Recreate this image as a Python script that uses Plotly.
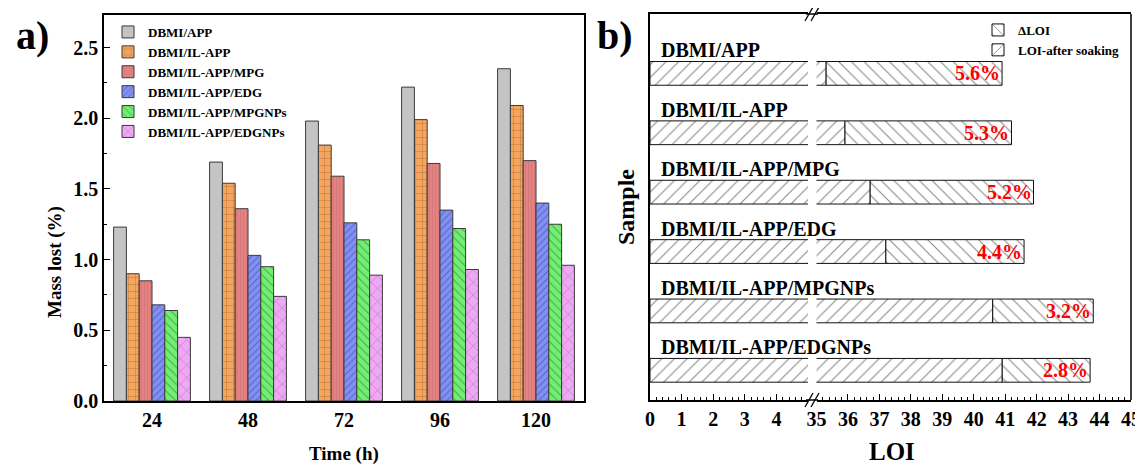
import plotly.graph_objects as go

# ---------------- data ----------------
times = ["24", "48", "72", "96", "120"]
series_names = ["DBMI/APP", "DBMI/IL-APP", "DBMI/IL-APP/MPG", "DBMI/IL-APP/EDG",
                "DBMI/IL-APP/MPGNPs", "DBMI/IL-APP/EDGNPs"]
mass_app = [1.23, 1.69, 1.98, 2.22, 2.35]
mass_il_app = [0.90, 1.54, 1.81, 1.99, 2.09]
mass_mpg = [0.85, 1.36, 1.59, 1.68, 1.70]
mass_edg = [0.68, 1.03, 1.26, 1.35, 1.40]
mass_mpgnps = [0.64, 0.95, 1.14, 1.22, 1.25]
mass_edgnps = [0.45, 0.74, 0.89, 0.93, 0.96]

samples = ["DBMI/APP", "DBMI/IL-APP", "DBMI/IL-APP/MPG", "DBMI/IL-APP/EDG",
           "DBMI/IL-APP/MPGNPs", "DBMI/IL-APP/EDGNPs"]
loi_after = [35.3, 35.9, 36.7, 37.2, 40.6, 40.9]
loi_delta = [5.6, 5.3, 5.2, 4.4, 3.2, 2.8]

# page body has an 8px margin: the figure starts at (8, 8) of the window
OFF = 8
W, H = 1143 - OFF, 468 - OFF
SERIF = "Liberation Serif, Times New Roman, serif"


def px(x):
    return (x - OFF) / W


def py(y):
    return 1 - (y - OFF) / H


fig = go.Figure()

# ---------------- panel a ----------------
styles = [
    dict(color="#C4C4C4", shape="", fg="#808080", size=8, sol=0.15),
    dict(color="#F5A55E", shape="+", fg="#6A3E18", size=7, sol=0.12),
    dict(color="#E58383", shape="|", fg="#C06464", size=3, sol=0.25),
    dict(color="#8191F3", shape="/", fg="#2A3585", size=5, sol=0.2),
    dict(color="#72EE72", shape="\\", fg="#1A6A1A", size=6, sol=0.18),
    dict(color="#F0A8F6", shape="x", fg="#6A456E", size=9, sol=0.12),
]
mass_series = [mass_app, mass_il_app, mass_mpg, mass_edg, mass_mpgnps, mass_edgnps]
for name, vals, st in zip(series_names, mass_series, styles):
    fig.add_trace(go.Bar(
        x=times, y=vals, name=name, xaxis="x", yaxis="y",
        marker=dict(color=st["color"], line=dict(color="#3A3A3A", width=1),
                    pattern=dict(shape=st["shape"], fgcolor=st["fg"], bgcolor=st["color"],
                                 size=st["size"], solidity=st["sol"], fillmode="overlay")),
        legend="legend",
    ))

# ---------------- panel b ----------------
loi_total = [a + d for a, d in zip(loi_after, loi_delta)]
after_marker = dict(color="white", line=dict(color="#111", width=1),
                    pattern=dict(shape="/", fgcolor="#111", bgcolor="white", size=9, solidity=0.12))
delta_marker = dict(color="white", line=dict(color="#111", width=1),
                    pattern=dict(shape="\\", fgcolor="#111", bgcolor="white", size=9, solidity=0.12))

fig.add_trace(go.Bar(
    y=samples, x=loi_delta, base=loi_after, orientation="h", name="ΔLOI",
    xaxis="x3", yaxis="y2", width=0.4, offset=-0.2, marker=delta_marker,
    legend="legend2", legendrank=1,
))
fig.add_trace(go.Bar(
    y=samples, x=loi_after, orientation="h", name="LOI-after soaking",
    xaxis="x3", yaxis="y2", width=0.4, offset=-0.2, marker=after_marker,
    legend="legend2", legendrank=2,
))
fig.add_trace(go.Bar(
    y=samples, x=loi_after, orientation="h", name="LOI-after soaking",
    xaxis="x2", yaxis="y2", width=0.4, offset=-0.2, marker=after_marker,
    legend="legend2", showlegend=False,
))

annotations = []
for s, tot, d in zip(samples, loi_total, loi_delta):
    annotations.append(dict(x=0.3, y=s, xref="x2", yref="y2", text=s, showarrow=False,
                            xanchor="left", yanchor="middle", yshift=23,
                            font=dict(family=SERIF, size=20, color="black", weight="bold")))
    annotations.append(dict(x=tot, y=s, xref="x3", yref="y2", text=f"{d:.1f}%", showarrow=False,
                            xanchor="right", yanchor="middle", xshift=0,
                            font=dict(family=SERIF, size=20, color="#FF0000", weight="bold")))


def label(x, y, text, size, angle=0):
    return dict(x=px(x), y=py(y), xref="paper", yref="paper", text=text, showarrow=False,
                xanchor="center", yanchor="middle", textangle=angle,
                font=dict(family=SERIF, size=size, color="black", weight="bold"))


# titles and panel labels
annotations += [
    label(32, 36, "a)", 40),
    label(615, 36, "b)", 40),
    label(55, 262, "Mass lost (%)", 19, -90),
    label(344, 454, "Time (h)", 19),
    label(626, 207, "Sample", 24, -90),
    label(892, 451, "LOI", 25),
]

# right frame line and axis-break marks
RB_L, RB_R, RB_T, RB_B = 650, 1131, 14, 400
BRK = 812
shapes = [
    dict(type="line", xref="paper", yref="paper", x0=px(RB_R), x1=px(RB_R), y0=py(RB_T), y1=py(RB_B),
         line=dict(color="black", width=1.5)),
    dict(type="line", xref="paper", yref="paper", x0=px(BRK - 6), x1=px(BRK + 6), y0=py(RB_T), y1=py(RB_T),
         line=dict(color="black", width=1.5)),
    dict(type="line", xref="paper", yref="paper", x0=px(BRK - 6), x1=px(BRK + 6), y0=py(RB_B), y1=py(RB_B),
         line=dict(color="black", width=1.5)),
]
for yy in (RB_T, RB_B):
    for dx in (-3, 3):
        shapes.append(dict(type="line", xref="paper", yref="paper",
                           x0=px(BRK + dx - 4), x1=px(BRK + dx + 4), y0=py(yy + 7), y1=py(yy - 7),
                           line=dict(color="black", width=1.3)))

tickfont = dict(family=SERIF, size=20, color="black", weight="bold")

fig.update_layout(
    width=W, height=H,
    margin=dict(l=0, r=0, t=0, b=0, autoexpand=False),
    paper_bgcolor="white", plot_bgcolor="white",
    barmode="group", bargap=0.2, bargroupgap=0,
    font=dict(family=SERIF, color="black"),
    xaxis=dict(domain=[px(104), px(584)], anchor="y", type="category", automargin=False,
               showline=True, mirror=True, linecolor="black", linewidth=1.5,
               ticks="", tickfont=tickfont, showgrid=False, zeroline=False),
    yaxis=dict(domain=[py(401), py(15)], anchor="x", range=[0, 2.73], automargin=False,
               dtick=0.5, tickformat=".1f", showline=True, mirror=True, linecolor="black",
               linewidth=1.5, ticks="inside", ticklen=6, tickwidth=1.3, tickcolor="black",
               minor=dict(dtick=0.25, ticks="inside", ticklen=3.5, tickcolor="black", tickwidth=1.2),
               tickfont=tickfont, showgrid=False, zeroline=False),
    xaxis2=dict(domain=[px(RB_L), px(808)], anchor="y2", range=[0, 5], automargin=False,
                tickvals=[0, 1, 2, 3, 4], showline=True, mirror=True, linecolor="black",
                linewidth=1.5, ticks="inside", ticklen=6, tickwidth=1.2, tickcolor="black",
                minor=dict(dtick=0.2, ticks="inside", ticklen=3, tickcolor="black", tickwidth=1),
                tickfont=tickfont, showgrid=False, zeroline=False),
    xaxis3=dict(domain=[px(816.5), px(RB_R)], anchor="y2", range=[35, 45], automargin=False,
                dtick=1, showline=True, mirror=True, linecolor="black",
                linewidth=1.5, ticks="inside", ticklen=6, tickwidth=1.2, tickcolor="black",
                minor=dict(dtick=0.2, ticks="inside", ticklen=3, tickcolor="black", tickwidth=1),
                tickfont=tickfont, showgrid=False, zeroline=False),
    yaxis2=dict(domain=[py(RB_B), py(RB_T)], anchor="x2", type="category", automargin=False,
                categoryorder="array", categoryarray=samples[::-1], range=[-0.5, 6.0],
                showline=True, mirror=False, linecolor="black", linewidth=1.5,
                showticklabels=False, ticks="", showgrid=False, zeroline=False),
    legend=dict(x=px(108), y=py(17), xanchor="left", yanchor="top", bgcolor="rgba(0,0,0,0)",
                font=dict(family=SERIF, size=13, color="black", weight="bold"),
                tracegroupgap=0, itemwidth=30, traceorder="normal"),
    legend2=dict(x=px(978), y=py(15), xanchor="left", yanchor="top", bgcolor="rgba(0,0,0,0)",
                 font=dict(family=SERIF, size=13, color="black", weight="bold"),
                 itemwidth=30, traceorder="normal"),
    annotations=annotations,
    shapes=shapes,
)

fig.write_html("out.html")
